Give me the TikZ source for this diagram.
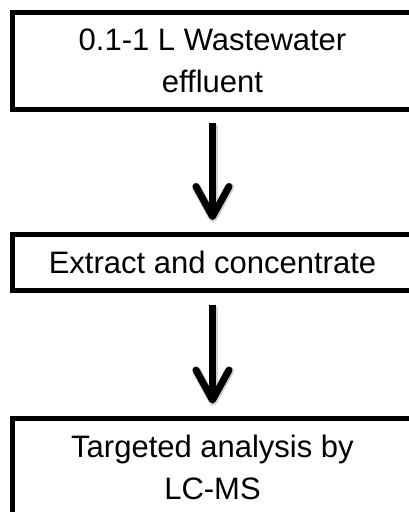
\documentclass[tikz,border=0pt]{standalone}
\usepackage{fontspec}
\setmainfont{Liberation Sans}
\usetikzlibrary{arrows.meta}

\tikzset{
  stage/.style={draw,line width=5pt,minimum width=401pt,inner sep=0pt,align=center,
    font=\fontsize{31}{42}\selectfont},
  flow/.style={line width=7pt,-{Straight Barb[length=30pt,width=33pt,round]},
    shorten <=11.5pt,shorten >=12pt},
  shade/.style={preaction={draw=black!18,line width=9pt,transform canvas={shift={(0.5pt,-2pt)}}}}
}

\providecommand{\Stage}[4]{
\node[stage,minimum height=#3] (#1) at (#2) {#4};
}

\begin{document}
\begin{tikzpicture}[x=1pt,y=1pt]
\useasboundingbox (0,0) rectangle (409,-512);
\clip (0,0) rectangle (409,-512);
\Stage{sample}{212.5,-61}{96.5pt}{0.1-1 L Wastewater\\effluent}
\Stage{extract}{212.5,-262.5}{56pt}{Extract and concentrate}
\Stage{analysis}{212.5,-467}{98pt}{Targeted analysis by\\LC-MS}
\draw[flow,shade] (sample) -- (extract);
\draw[flow,shade] (extract) -- (analysis);
\end{tikzpicture}
\end{document}
